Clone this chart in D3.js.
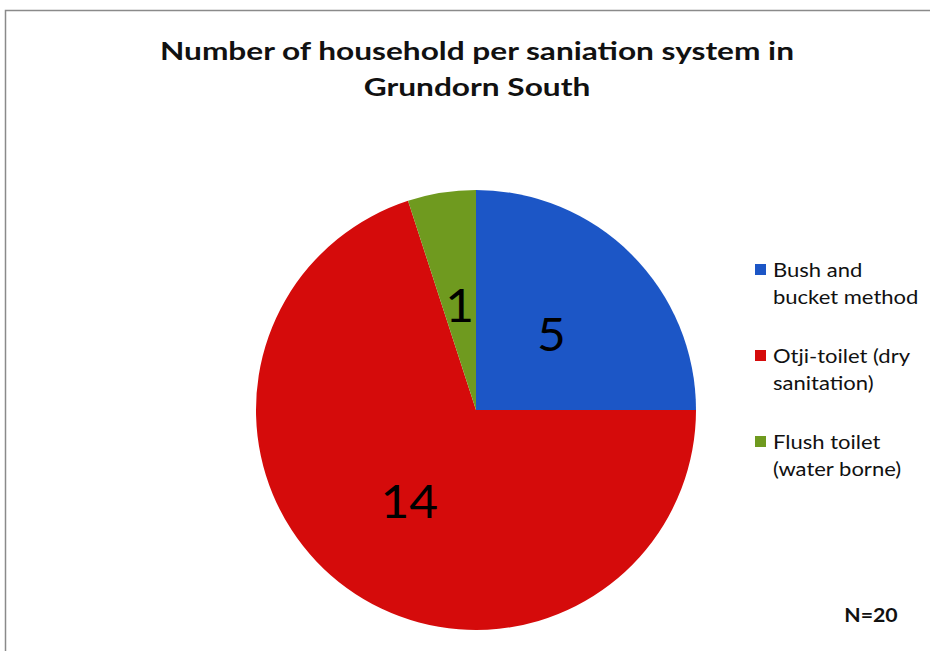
<!DOCTYPE html>
<html><head><meta charset="utf-8">
<script src="https://cdn.jsdelivr.net/npm/d3@7"></script>
<style>body{margin:0;background:#fff;}svg{display:block;}</style>
</head><body>
<script>
const categories = ["Bush and bucket method", "Otji-toilet (dry sanitation)", "Flush toilet (water borne)"];
const legendLines = [["Bush and", "bucket method"], ["Otji-toilet (dry", "sanitation)"], ["Flush toilet", "(water borne)"]];
const values = [5, 14, 1];
const colors = ["#1c56c6", "#d50b0b", "#6f9a1f"];
const titleLines = ["Number of household per saniation system in", "Grundorn South"];
const note = "N=20";

const W = 930, H = 651;
const svg = d3.select("body").append("svg").attr("width", W).attr("height", H);
svg.append("rect").attr("x", 0).attr("y", 0).attr("width", W).attr("height", H).attr("fill", "#fff");
svg.append("rect").attr("x", 5.5).attr("y", 10.5).attr("width", W + 10).attr("height", H + 10)
  .attr("fill", "none").attr("stroke", "#8a8a8a").attr("stroke-width", 1.5);

const font = "Lato, 'Open Sans', sans-serif";
const stretch = 1.19;
function widen(sel, f) {
  sel.each(function() {
    const w = this.getComputedTextLength();
    d3.select(this).attr("textLength", w * f).attr("lengthAdjust", "spacingAndGlyphs");
  });
}

const titles = svg.selectAll("text.title").data(titleLines).join("text")
  .attr("class", "title")
  .attr("x", 477).attr("y", (d, i) => 60 + i * 36)
  .attr("text-anchor", "middle").attr("font-family", font).attr("font-weight", "bold")
  .attr("font-size", 25.5).attr("fill", "#111").text(d => d);
widen(titles, 1.24);

const cx = 476, cy = 410, r = 220;
const pie = d3.pie().sort(null).value(d => d)(values);
const arc = d3.arc().innerRadius(0).outerRadius(r);
const g = svg.append("g").attr("transform", `translate(${cx},${cy})`);
g.selectAll("path").data(pie).join("path").attr("d", arc).attr("fill", (d, i) => colors[i]);

const labelPos = [0.485, 0.516, 0.478];
const labels = g.selectAll("text").data(pie).join("text")
  .attr("transform", (d, i) => {
    const c = d3.arc().innerRadius(0).outerRadius(r * 2 * labelPos[i]).centroid(d);
    return `translate(${c[0]},${c[1] + 16})`;
  })
  .attr("text-anchor", "middle")
  .attr("font-family", font).attr("font-size", 46).attr("fill", "#000")
  .text(d => d.data);
widen(labels, 1.08);

const items = svg.append("g").selectAll("g").data(categories).join("g")
  .attr("transform", (d, i) => `translate(755,${270 + i * 86})`);
items.append("rect").attr("x", 0).attr("y", -6).attr("width", 11).attr("height", 11)
  .attr("fill", (d, i) => colors[i]);
items.each(function(d, i) {
  const t = d3.select(this).selectAll("text").data(legendLines[i]).join("text")
    .attr("x", 18).attr("y", (t, j) => 7 + j * 27)
    .attr("font-family", font).attr("font-size", 18.5).attr("fill", "#111").text(t => t);
  widen(t, stretch);
});

const n = svg.append("text").attr("x", 871).attr("y", 622).attr("text-anchor", "middle")
  .attr("font-family", font).attr("font-weight", "bold")
  .attr("font-size", 18.5).attr("fill", "#111").text(note);
widen(n, 1.15);
</script>
</body></html>
